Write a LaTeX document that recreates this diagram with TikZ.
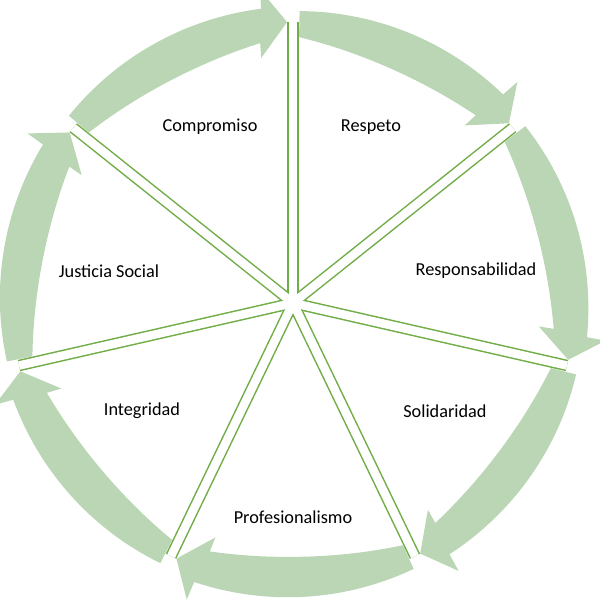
\documentclass[tikz,border=0pt]{standalone}
\usepackage{fontspec}
\setmainfont{Carlito}
\usepackage{tikz}
\usepackage{xcolor}
\tikzset{>=latex}
\definecolor{arrowcol}{RGB}{187,214,180}
\definecolor{spokecol}{RGB}{112,173,71}
\tikzstyle{ring arrow}=[fill=arrowcol,draw=none]
\tikzstyle{spoke out}=[spokecol,line width=2.3mm]
\tikzstyle{spoke in}=[white,line width=1.7mm]
\tikzset{
  value/.style={font=\fontsize{10.4}{12}\selectfont,text=black}}

\begin{document}
\begin{tikzpicture}[x=0.02cm,y=0.02cm]
  \def\NS{7}
  \def\R{281}   % tip / spoke radius
  \def\ro{292}  % outer edge at tail
  \def\rd{4}    % outer edge growth
  \def\gap{1.3}
  \clip (-293,-297) rectangle (307,303);

  % ARROWS
  \foreach \k [evaluate={\sa=90-\k*360/\NS; \ts=\sa-\gap; \tp=\sa-360/\NS+1.2;
                         \hbo=\tp+5.0; \hbi=\tp+6.0;}] in {0,...,6}{
    \fill[ring arrow]
      plot[domain=0:1,samples=40,variable=\t] ({\ts+(\hbo-\ts)*\t}:{\ro+\rd*\t})
      -- (\tp+4.8:315) -- (\tp:\R) -- (\tp+6.2:247)
      -- plot[domain=1:0,samples=40,variable=\t]
         ({\ts+(\hbi-\ts)*\t}:{\ro+\rd*\t-(26+48*\t-40*\t*\t)})
      -- cycle;
  }

  % SPOKES
  \foreach \k in {0,...,6}
    \draw[spoke out] (0,0) -- (90-\k*360/\NS:\R);
  \foreach \k in {0,...,6}
    \draw[spoke in] (0,0) -- (90-\k*360/\NS:\R);

  % VALUES
  \node[value] (comp) at (-83,176) {Compromiso};
  \node[value] (resp) at (78,176) {Respeto};
  \node[value] (resb) at (183,32) {Responsabilidad};
  \node[value] (soli) at (152,-108) {Solidaridad};
  \node[value] (prof) at (0,-214) {Profesionalismo};
  \node[value] (inte) at (-151,-108) {Integridad};
  \node[value] (just) at (-184,32) {Justicia Social};
\end{tikzpicture}
\end{document}
